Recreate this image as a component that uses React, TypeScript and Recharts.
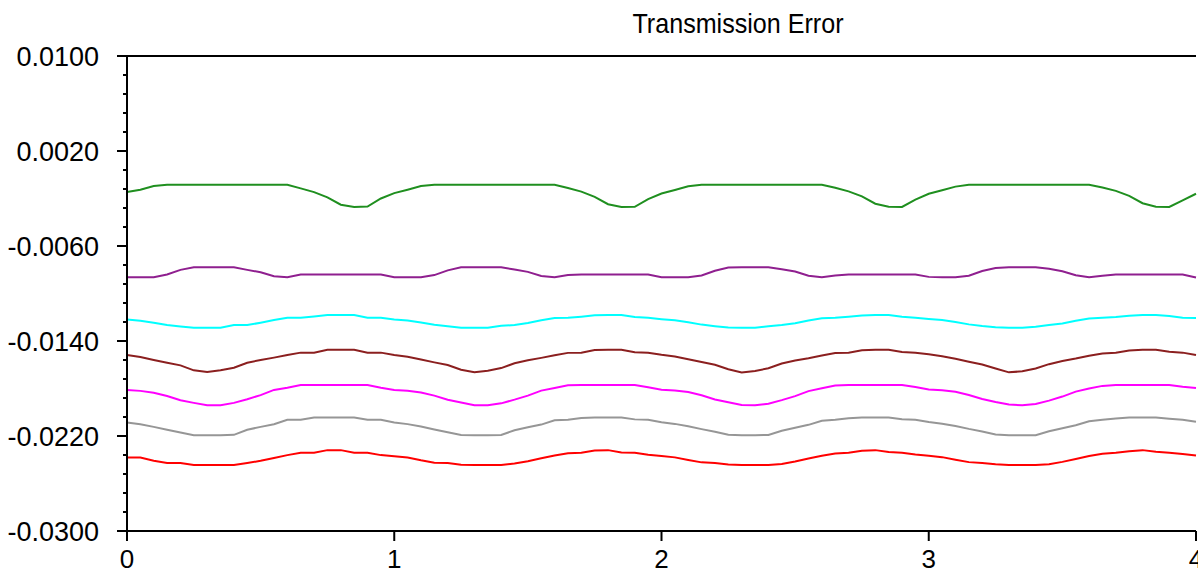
import { LineChart, Line, XAxis, YAxis, ReferenceLine } from "recharts";

const FONT = '"Liberation Sans", Arial, sans-serif';

const X_VALUES = [
  0, 0.05, 0.1, 0.15, 0.2, 0.25, 0.3, 0.35, 0.4, 0.45, 0.5, 0.55, 0.6, 0.65, 0.7, 0.75, 0.8, 0.85, 0.9, 0.95,
  1, 1.05, 1.1, 1.15, 1.2, 1.25, 1.3, 1.35, 1.4, 1.45, 1.5, 1.55, 1.6, 1.65, 1.7, 1.75, 1.8, 1.85, 1.9, 1.95,
  2, 2.05, 2.1, 2.15, 2.2, 2.25, 2.3, 2.35, 2.4, 2.45, 2.5, 2.55, 2.6, 2.65, 2.7, 2.75, 2.8, 2.85, 2.9, 2.95,
  3, 3.05, 3.1, 3.15, 3.2, 3.25, 3.3, 3.35, 3.4, 3.45, 3.5, 3.55, 3.6, 3.65, 3.7, 3.75, 3.8, 3.85, 3.9, 3.95,
  4,
];

const GREEN = [
  -0.00146, -0.00126, -0.00095, -0.00084, -0.00084, -0.00084, -0.00084, -0.00084, -0.00084, -0.00084, -0.00084, -0.00084, -0.00084, -0.00115, -0.00146, -0.0019, -0.00252, -0.00271, -0.00268, -0.002,
  -0.00155, -0.00126, -0.00095, -0.00084, -0.00084, -0.00084, -0.00084, -0.00084, -0.00084, -0.00084, -0.00084, -0.00084, -0.00084, -0.00112, -0.00142, -0.00186, -0.00248, -0.00271, -0.0027, -0.00205,
  -0.00158, -0.00128, -0.00097, -0.00084, -0.00084, -0.00084, -0.00084, -0.00084, -0.00084, -0.00084, -0.00084, -0.00084, -0.00084, -0.0011, -0.0014, -0.00182, -0.00244, -0.0027, -0.00271, -0.0021,
  -0.0016, -0.0013, -0.001, -0.00084, -0.00084, -0.00084, -0.00084, -0.00084, -0.00084, -0.00084, -0.00084, -0.00084, -0.00084, -0.00108, -0.00136, -0.00178, -0.0024, -0.00269, -0.00271, -0.00215,
  -0.0016,
];

const PURPLE = [
  -0.00863, -0.00863, -0.00863, -0.0084, -0.00801, -0.00779, -0.00779, -0.00779, -0.00779, -0.00801, -0.00821, -0.00855, -0.00863, -0.0084, -0.0084, -0.0084, -0.0084, -0.0084, -0.0084, -0.0084,
  -0.00863, -0.00863, -0.00863, -0.00845, -0.00805, -0.00779, -0.00779, -0.00779, -0.00779, -0.00798, -0.00818, -0.00852, -0.00863, -0.00845, -0.0084, -0.0084, -0.0084, -0.0084, -0.0084, -0.0084,
  -0.00863, -0.00863, -0.00863, -0.00848, -0.00808, -0.00782, -0.00779, -0.00779, -0.00779, -0.00795, -0.00815, -0.0085, -0.00863, -0.00848, -0.0084, -0.0084, -0.0084, -0.0084, -0.0084, -0.0084,
  -0.0086, -0.00863, -0.00863, -0.0085, -0.0081, -0.00785, -0.00779, -0.00779, -0.00779, -0.00792, -0.00812, -0.00846, -0.00863, -0.0085, -0.0084, -0.0084, -0.0084, -0.0084, -0.0084, -0.0084,
  -0.00865,
];

const CYAN = [
  -0.01218, -0.0123, -0.01246, -0.01266, -0.01277, -0.01288, -0.01288, -0.01288, -0.01266, -0.01266, -0.01246, -0.01224, -0.01204, -0.01204, -0.01193, -0.01182, -0.01182, -0.01182, -0.01204, -0.01204,
  -0.01218, -0.01228, -0.01244, -0.01264, -0.01276, -0.01288, -0.01288, -0.01288, -0.01272, -0.01266, -0.01248, -0.01226, -0.01206, -0.01204, -0.01195, -0.01184, -0.01182, -0.01182, -0.01198, -0.01204,
  -0.01216, -0.01226, -0.01242, -0.01262, -0.01275, -0.01286, -0.01288, -0.01288, -0.01276, -0.01266, -0.0125, -0.01228, -0.01208, -0.01204, -0.01196, -0.01186, -0.01182, -0.01182, -0.01195, -0.01204,
  -0.01214, -0.01224, -0.0124, -0.0126, -0.01274, -0.01284, -0.01288, -0.01288, -0.0128, -0.01266, -0.01252, -0.0123, -0.0121, -0.01204, -0.01198, -0.01188, -0.01182, -0.01182, -0.0119, -0.01204,
  -0.01206,
];

const BROWN = [
  -0.01518, -0.01535, -0.0156, -0.01583, -0.01605, -0.01647, -0.0166, -0.01647, -0.01625, -0.01583, -0.0156, -0.0154, -0.01518, -0.01498, -0.01498, -0.01473, -0.01473, -0.01473, -0.01498, -0.01498,
  -0.01518, -0.01532, -0.01556, -0.0158, -0.01602, -0.01642, -0.01664, -0.0165, -0.01628, -0.01588, -0.01562, -0.01542, -0.0152, -0.015, -0.01498, -0.01476, -0.01473, -0.01473, -0.01495, -0.01498,
  -0.01516, -0.0153, -0.01553, -0.01577, -0.016, -0.01638, -0.01666, -0.01652, -0.0163, -0.0159, -0.01565, -0.01545, -0.01522, -0.01502, -0.01498, -0.01478, -0.01473, -0.01473, -0.01492, -0.01498,
  -0.01512, -0.01528, -0.0155, -0.01575, -0.01598, -0.01632, -0.01664, -0.01655, -0.01632, -0.01595, -0.01568, -0.01548, -0.01524, -0.01505, -0.01498, -0.0148, -0.01473, -0.01473, -0.0149, -0.01498,
  -0.01518,
];

const MAGENTA = [
  -0.01812, -0.0182, -0.01835, -0.01863, -0.01899, -0.01921, -0.01941, -0.01941, -0.01921, -0.0189, -0.01856, -0.01812, -0.01793, -0.0177, -0.0177, -0.0177, -0.0177, -0.0177, -0.0177, -0.01793,
  -0.01812, -0.01818, -0.01833, -0.0186, -0.01895, -0.01918, -0.01941, -0.01941, -0.01925, -0.01894, -0.0186, -0.01818, -0.01795, -0.01772, -0.0177, -0.0177, -0.0177, -0.0177, -0.0177, -0.0179,
  -0.0181, -0.01816, -0.0183, -0.01857, -0.01892, -0.01916, -0.01938, -0.01941, -0.01928, -0.01898, -0.01864, -0.01822, -0.01798, -0.01775, -0.0177, -0.0177, -0.0177, -0.0177, -0.0177, -0.01788,
  -0.01808, -0.01814, -0.01828, -0.01855, -0.01888, -0.01914, -0.01935, -0.01941, -0.0193, -0.01902, -0.01868, -0.01826, -0.018, -0.01778, -0.0177, -0.0177, -0.0177, -0.0177, -0.0177, -0.01785,
  -0.01795,
];

const GRAY = [
  -0.02087, -0.02101, -0.02123, -0.02148, -0.02171, -0.02193, -0.02193, -0.02193, -0.0219, -0.02148, -0.02123, -0.02101, -0.02064, -0.02064, -0.02045, -0.02045, -0.02045, -0.02045, -0.02064, -0.02064,
  -0.02087, -0.021, -0.0212, -0.02145, -0.02168, -0.02192, -0.02193, -0.02193, -0.02191, -0.02152, -0.02126, -0.02104, -0.02068, -0.02064, -0.02048, -0.02045, -0.02045, -0.02045, -0.0206, -0.02064,
  -0.02084, -0.02098, -0.02118, -0.02142, -0.02165, -0.0219, -0.02193, -0.02193, -0.02192, -0.02156, -0.0213, -0.02106, -0.02072, -0.02064, -0.0205, -0.02045, -0.02045, -0.02045, -0.02058, -0.02064,
  -0.02082, -0.02096, -0.02115, -0.0214, -0.02162, -0.02188, -0.02193, -0.02193, -0.02193, -0.0216, -0.02134, -0.0211, -0.02076, -0.02064, -0.02052, -0.02045, -0.02045, -0.02045, -0.02055, -0.02064,
  -0.0208,
];

const RED = [
  -0.02381, -0.02381, -0.02409, -0.02428, -0.02428, -0.02445, -0.02445, -0.02445, -0.02445, -0.02428, -0.02409, -0.02385, -0.02361, -0.02341, -0.02341, -0.02319, -0.02319, -0.02341, -0.02341, -0.02361,
  -0.0237, -0.02381, -0.02405, -0.02425, -0.02428, -0.02442, -0.02445, -0.02445, -0.02445, -0.02432, -0.02412, -0.02388, -0.02364, -0.02345, -0.02341, -0.02322, -0.02319, -0.02338, -0.02341, -0.02358,
  -0.02368, -0.0238, -0.02402, -0.02422, -0.02428, -0.0244, -0.02445, -0.02445, -0.02445, -0.02435, -0.02415, -0.0239, -0.02366, -0.02348, -0.02341, -0.02325, -0.02319, -0.02335, -0.02341, -0.02355,
  -0.02366, -0.02378, -0.024, -0.0242, -0.02428, -0.02438, -0.02445, -0.02445, -0.02445, -0.02438, -0.02418, -0.02393, -0.02368, -0.0235, -0.02341, -0.02328, -0.02319, -0.02332, -0.02341, -0.02352,
  -0.02365,
];

const X_TICKS = [0, 1, 2, 3, 4];
const Y_MAJOR = [0.01, 0.002, -0.006, -0.014, -0.022, -0.03];
const Y_MINOR = [
  0.0084, 0.0068, 0.0052, 0.0036,
  0.0004, -0.0012, -0.0028, -0.0044,
  -0.0076, -0.0092, -0.0108, -0.0124,
  -0.0156, -0.0172, -0.0188, -0.0204,
  -0.0236, -0.0252, -0.0268, -0.0284,
];

const SERIES = [
  { key: "green", values: GREEN, color: "#1f8f1f" },
  { key: "purple", values: PURPLE, color: "#8f1f8f" },
  { key: "cyan", values: CYAN, color: "#00ffff" },
  { key: "brown", values: BROWN, color: "#8b1f1f" },
  { key: "magenta", values: MAGENTA, color: "#ff00ff" },
  { key: "gray", values: GRAY, color: "#969696" },
  { key: "red", values: RED, color: "#ff0000" },
];

const data = X_VALUES.map((x, i) => {
  const row: Record<string, number> = { x };
  SERIES.forEach((s) => (row[s.key] = s.values[i]));
  return row;
});

const allYTicks = [...Y_MAJOR, ...Y_MINOR].sort((a, b) => b - a);

// left axis: long tick + label for majors, short tick for minors
function YTick({ x, y, payload }: any) {
  const v = payload.value as number;
  const major = Y_MAJOR.some((m) => Math.abs(m - v) < 1e-9);
  return (
    <g>
      <line x1={x - (major ? 10 : 4)} x2={x} y1={y} y2={y} stroke="#000" strokeWidth={2} />
      {major && (
        <text x={x - 28} y={y} dy="0.36em" textAnchor="end" fontSize={27} fontFamily={FONT} fill="#000">
          {v.toFixed(4)}
        </text>
      )}
    </g>
  );
}

export default function App() {
  return (
    <div style={{ position: "fixed", left: 0, top: 0, width: 1198, height: 577, overflow: "hidden", background: "#fff" }}>
      <svg width={1198} height={50} style={{ position: "absolute", left: 0, top: 0 }}>
        <text x={738} y={33} textAnchor="middle" fontSize={27} fontFamily={FONT} fill="#000" transform="translate(738 0) scale(0.93 1) translate(-738 0)">
          Transmission Error
        </text>
      </svg>
      <div style={{ position: "absolute", left: 0, top: 0 }}>
        <LineChart width={1230} height={577} data={data} margin={{ top: 56, right: 34, bottom: 0, left: 0 }}>
          <XAxis
            dataKey="x"
            type="number"
            domain={[0, 4]}
            ticks={X_TICKS}
            height={46}
            axisLine={{ stroke: "#000", strokeWidth: 2 }}
            tickLine={{ stroke: "#000", strokeWidth: 2 }}
            tickSize={10}
            tickMargin={9}
            tick={{ fill: "#000", fontSize: 26, fontFamily: FONT }}
          />
          <YAxis
            type="number"
            domain={[-0.03, 0.01]}
            ticks={allYTicks}
            interval={0}
            width={127}
            axisLine={{ stroke: "#000", strokeWidth: 2 }}
            tickLine={false}
            tickSize={0}
            tickMargin={0}
            tick={<YTick />}
          />
          <ReferenceLine y={0.01} stroke="#000" strokeWidth={2} />
          {SERIES.map((s) => (
            <Line
              key={s.key}
              type="linear"
              dataKey={s.key}
              stroke={s.color}
              strokeWidth={2}
              dot={false}
              activeDot={false}
              isAnimationActive={false}
            />
          ))}
        </LineChart>
      </div>
    </div>
  );
}
